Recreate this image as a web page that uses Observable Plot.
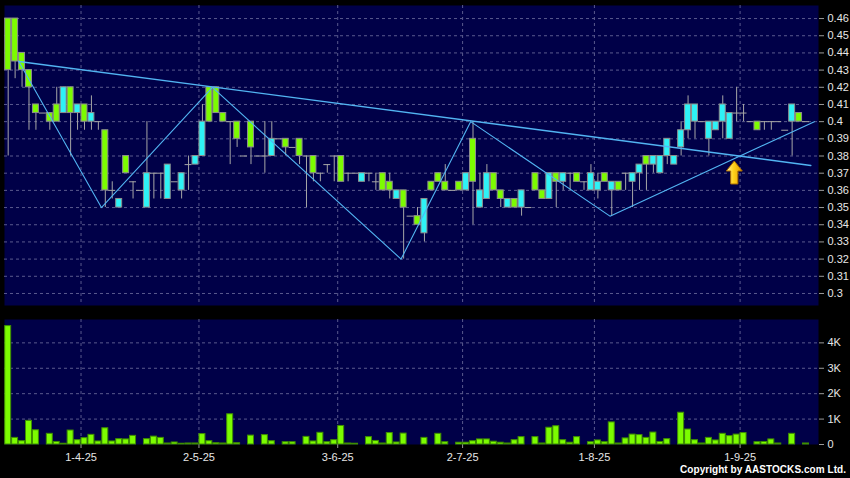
<!DOCTYPE html>
<html><head><meta charset="utf-8">
<script src="https://cdn.jsdelivr.net/npm/d3@7"></script>
<script src="https://cdn.jsdelivr.net/npm/@observablehq/plot@0.6"></script>
<style>
html,body{margin:0;padding:0;background:#000;}
#wrap{position:relative;width:850px;height:478px;background:#000;overflow:hidden;}
#wrap svg{display:block;}
#copy{position:absolute;right:4px;top:464px;color:#fff;font:bold 10px "Liberation Sans",Arial,sans-serif;letter-spacing:0.05px;white-space:nowrap;}
</style></head><body>
<div id="wrap"><div id="top"></div><div id="bot"></div><div id="copy">Copyright by AASTOCKS.com Ltd.</div></div>
<script>
// ---- data (one entry per trading bar, left to right) ----
const opens = [.46,.46,.44,.43,.41,.405,.405,.41,.405,.42,.405,.41,.40,.40,.395,.36,.35,.38,.365,.36,
  .35,.37,.37,.355,.365,.36,.375,.375,.38,.42,.42,.405,.40,.40,.38,.40,.38,.38,.38,.39,
  .39,.385,.39,.38,.38,.37,.375,.38,.38,.37,.37,.365,.37,.365,.37,.365,.355,.36,.345,.345,
  .335,.365,.37,.365,.36,.365,.36,.39,.35,.355,.37,.36,.35,.355,.35,.35,.37,.36,.355,.37,
  .365,.37,.37,.365,.36,.36,.37,.36,.365,.37,.365,.37,.38,.375,.37,.38,.375,.385,.395,.40,
  .40,.39,.395,.40,.39,.405,.405,.40,.40,.40,.40,.40,.395,.40,.405,.40];
const highs = [.46,.46,.44,.43,.41,.405,.405,.42,.42,.42,.41,.41,.415,.40,.395,.365,.355,.38,.365,.36,
  .40,.37,.37,.375,.365,.37,.38,.38,.41,.42,.42,.405,.40,.40,.38,.40,.38,.40,.40,.39,
  .39,.385,.39,.38,.38,.37,.375,.38,.38,.37,.37,.37,.37,.37,.37,.37,.36,.36,.345,.35,
  .355,.365,.37,.375,.36,.365,.37,.40,.37,.375,.37,.36,.355,.355,.36,.35,.37,.36,.37,.37,
  .37,.37,.37,.365,.375,.37,.37,.365,.365,.37,.37,.375,.38,.38,.38,.39,.38,.40,.415,.41,
  .40,.40,.40,.415,.405,.42,.41,.40,.40,.40,.40,.40,.395,.41,.405,.40];
const lows = [.38,.425,.42,.395,.395,.405,.395,.40,.405,.38,.395,.395,.395,.395,.35,.355,.35,.37,.355,.36,
  .35,.355,.355,.355,.365,.355,.36,.375,.38,.40,.405,.40,.375,.385,.38,.375,.38,.37,.38,.39,
  .38,.385,.375,.35,.365,.365,.37,.365,.365,.365,.37,.365,.365,.36,.36,.355,.355,.32,.345,.34,
  .33,.36,.365,.36,.36,.36,.36,.34,.35,.355,.36,.35,.35,.35,.345,.35,.36,.355,.355,.35,
  .36,.36,.365,.36,.36,.355,.365,.345,.36,.36,.35,.36,.36,.37,.37,.375,.375,.38,.39,.39,
  .40,.38,.395,.39,.39,.40,.40,.40,.395,.395,.395,.40,.395,.38,.40,.40];
const closes = [.43,.435,.43,.42,.405,.405,.40,.40,.42,.405,.41,.40,.405,.40,.36,.36,.355,.37,.365,.36,
  .37,.37,.37,.375,.365,.37,.375,.38,.40,.40,.405,.40,.40,.39,.38,.385,.38,.38,.39,.39,
  .385,.385,.38,.38,.37,.37,.375,.38,.365,.37,.37,.37,.37,.365,.36,.36,.36,.35,.345,.34,
  .355,.36,.365,.36,.36,.36,.37,.365,.36,.37,.36,.355,.355,.35,.36,.35,.36,.355,.37,.365,
  .37,.37,.365,.365,.37,.365,.365,.365,.36,.37,.37,.375,.375,.38,.38,.39,.38,.395,.41,.41,
  .40,.40,.40,.41,.405,.405,.405,.40,.395,.40,.40,.40,.395,.41,.40,.40];
// volume in thousands of shares
const volumes = [4.66,0.26,0.13,0.93,0.56,0,0.42,0.10,0.03,0.55,0.17,0.25,0.38,0.12,0.64,0.12,0.21,0.20,0.34,0,
  0.21,0.31,0.26,0.04,0.08,0.03,0.04,0.04,0.41,0.13,0.05,0.04,1.19,0.05,0,0.35,0,0.37,0.13,0,
  0.09,0.09,0,0.30,0.12,0.46,0.09,0.17,0.73,0.04,0.03,0,0.29,0.14,0.04,0.45,0.08,0.43,0,0,
  0.26,0,0.42,0.09,0,0.07,0.07,0.13,0.20,0.20,0.11,0.07,0.04,0.17,0.29,0,0.29,0.04,0.66,0.72,
  0.17,0.07,0.29,0,0.09,0.16,0.09,0.87,0.04,0.24,0.39,0.37,0.26,0.47,0.10,0.21,0,1.25,0.59,0.17,
  0.04,0.26,0.16,0.42,0.33,0.39,0.45,0,0.09,0.10,0.20,0.04,0,0.42,0,0.04];
// month boundaries (bar position) and their labels
const monthTicks = [10.5, 27.5, 47.5, 65.5, 84.5, 105.5];
const monthLabels = ["1-4-25","2-5-25","3-6-25","2-7-25","1-8-25","1-9-25"];
const priceTicks = [0.30,0.31,0.32,0.33,0.34,0.35,0.36,0.37,0.38,0.39,0.40,0.41,0.42,0.43,0.44,0.45,0.46];
const volumeTicks = [0,1,2,3,4];
const volumeTickLabels = ["0","1K","2K","3K","4K"];
// drawn trend lines: [bar position, price]
const trendLong = [[1.53,0.435],[115.7,0.3745]];
const trendZigzag = [[1.53,0.435],[13.44,0.35],[29.44,0.42],[56.63,0.32],[66.66,0.40],[86.74,0.345],[116.2,0.40]];
const arrowMark = [[104.66,0.3704]];

// ---- styling ----
const NAVY = "#000048", GRID = "#5a5a8e", GREEN = "#7cfc00", CYAN = "#2ef2f6",
      WICK = "#a6a6a6", EDGE = "#8e8e8e", BLUE = "#52b4f2";
const X_DOMAIN = [-0.53, 116.8];
const HALF = 0.43;

const bars = opens.map((o, i) => ({i, o, h: highs[i], l: lows[i], c: closes[i], v: volumes[i]}));
const bodies = bars.filter(d => d.o !== d.c);
const dojis = bars.filter(d => d.o === d.c);
const toPts = a => a.map(([i, p]) => ({i, p}));

const arrowSymbol = {
  draw(ctx) {
    ctx.moveTo(0, -11.5);
    ctx.lineTo(8, -1.5);
    ctx.lineTo(3.6, -1.5);
    ctx.lineTo(3.6, 11.5);
    ctx.lineTo(-3.6, 11.5);
    ctx.lineTo(-3.6, -1.5);
    ctx.lineTo(-8, -1.5);
    ctx.closePath();
  }
};

const style = {background: "#000", color: "#e6e6e6", fontFamily: "'Liberation Sans', Arial, sans-serif", fontSize: "11px"};

const up = Plot.plot({
  width: 850, height: 310,
  marginLeft: 4, marginRight: 32, marginTop: 5, marginBottom: 5,
  style,
  x: {domain: X_DOMAIN, axis: null},
  y: {domain: [0.293, 0.4676], axis: null},
  marks: [
    Plot.frame({fill: NAVY, stroke: null}),
    Plot.gridY(priceTicks, {stroke: GRID, strokeOpacity: 1, strokeDasharray: "3,3"}),
    Plot.gridX(monthTicks, {stroke: GRID, strokeOpacity: 1, strokeDasharray: "3,3"}),
    Plot.axisY(priceTicks, {anchor: "right", tickSize: 5, tickPadding: 4, label: null, stroke: "#9a9a9a",
      tickFormat: d => String(Math.round(d * 100) / 100)}),
    Plot.ruleX(bars, {x: "i", y1: "l", y2: "h", stroke: WICK, strokeWidth: 1}),
    Plot.ruleY(dojis, {y: "c", x1: d => d.i - 0.5, x2: d => d.i + 0.5, stroke: WICK, strokeWidth: 1}),
    Plot.rect(bodies, {x1: d => d.i - HALF, x2: d => d.i + HALF, y1: "o", y2: "c",
      fill: d => d.c > d.o ? CYAN : GREEN, stroke: EDGE, strokeWidth: 1}),
    Plot.line(toPts(trendLong), {x: "i", y: "p", stroke: BLUE, strokeWidth: 1.4}),
    Plot.line(toPts(trendZigzag), {x: "i", y: "p", stroke: BLUE, strokeWidth: 1.1}),
    Plot.dot(toPts(arrowMark), {x: "i", y: "p", symbol: arrowSymbol, r: 10, fill: "url(#gold)", stroke: "#a86a00", strokeWidth: 1})
  ]
});
d3.select(up).insert("defs", ":first-child").html(
  '<linearGradient id="gold" x1="0" x2="1" y1="0" y2="0">' +
  '<stop offset="0" stop-color="#fff4a8"/><stop offset="0.45" stop-color="#ffd21a"/>' +
  '<stop offset="1" stop-color="#e09a00"/></linearGradient>');

const lo = Plot.plot({
  width: 850, height: 168,
  marginLeft: 4, marginRight: 32, marginTop: 9, marginBottom: 34,
  style,
  x: {domain: X_DOMAIN, axis: null},
  y: {domain: [0, 4.92], axis: null},
  marks: [
    Plot.frame({fill: NAVY, stroke: null}),
    Plot.gridY(volumeTicks.filter(d => d > 0), {stroke: GRID, strokeOpacity: 1, strokeDasharray: "3,3"}),
    Plot.gridX(monthTicks, {stroke: GRID, strokeOpacity: 1, strokeDasharray: "3,3"}),
    Plot.axisY(volumeTicks, {anchor: "right", tickSize: 5, tickPadding: 4, label: null, stroke: "#9a9a9a",
      tickFormat: d => volumeTickLabels[volumeTicks.indexOf(d)]}),
    Plot.axisX(monthTicks, {anchor: "bottom", tickSize: 4, tickPadding: 5, label: null, stroke: "#9a9a9a",
      tickFormat: d => monthLabels[monthTicks.indexOf(d)]}),
    Plot.rectY(bars.filter(d => d.v > 0), {x1: d => d.i - HALF, x2: d => d.i + HALF, y1: 0, y2: "v",
      fill: GREEN, stroke: "#3f8f00", strokeWidth: 1})
  ]
});

document.getElementById("top").appendChild(up);
document.getElementById("bot").appendChild(lo);
</script>
</body></html>
